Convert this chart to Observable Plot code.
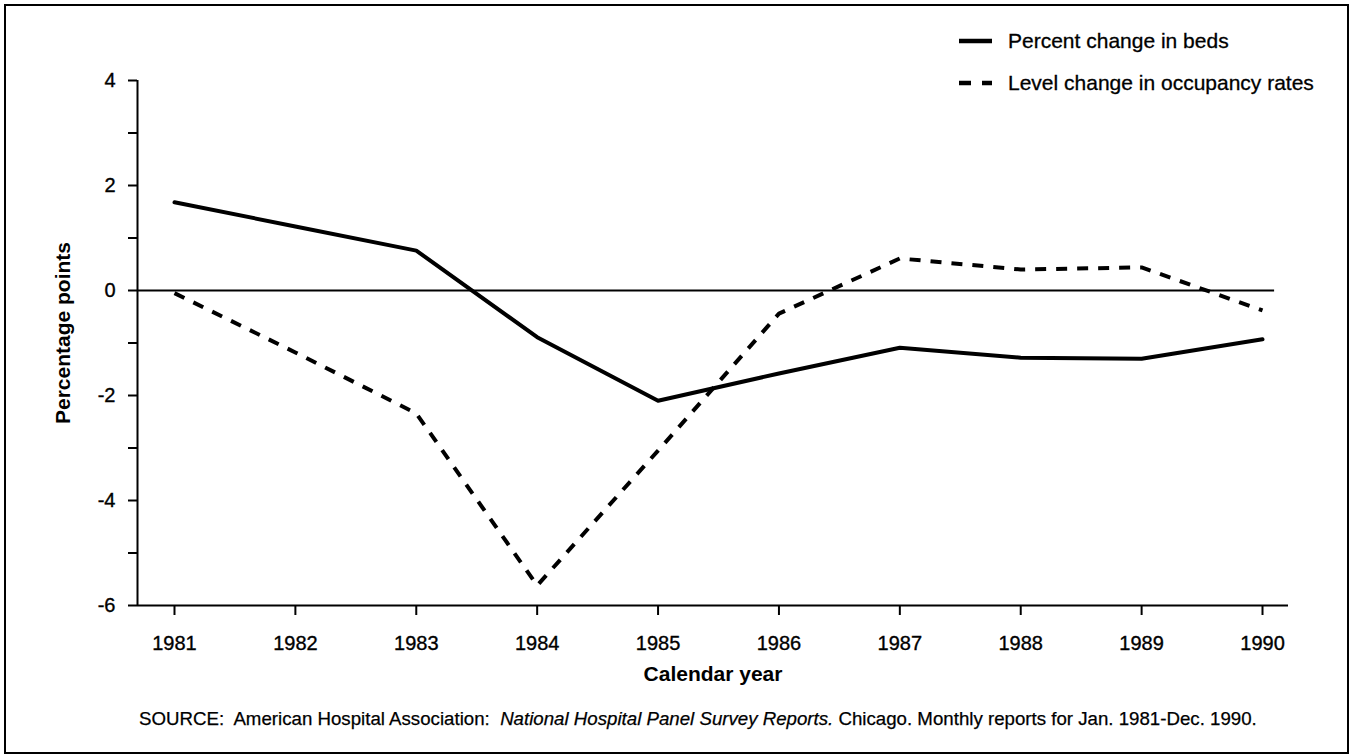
<!DOCTYPE html>
<html>
<head>
<meta charset="utf-8">
<script src="https://cdn.jsdelivr.net/npm/d3@7"></script>
<script src="https://cdn.jsdelivr.net/npm/@observablehq/plot@0.6"></script>
<style>
  html, body { margin: 0; padding: 0; background: #fff; }
  #wrap { position: relative; width: 1351px; height: 754px; overflow: hidden; font-family: "Liberation Sans", Arial, Helvetica, sans-serif; color: #000; }
  #border { position: absolute; left: 4px; top: 4px; width: 1345px; height: 750px; box-sizing: border-box; border: 2px solid #000; }
  #chart { position: absolute; left: 0; top: 0; }
  #chart svg g[aria-label$="tick"] path { stroke-width: 2px !important; }
  #chart svg g[aria-label$="tick label"] text { stroke: #000; stroke-width: 0.35px; }
  .leg { position: absolute; left: 958px; height: 21px; display: flex; align-items: center; font-size: 21px; line-height: 21px; white-space: nowrap; -webkit-text-stroke: 0.3px #000; }
  .leg svg { margin-right: 16px; }
  #caption { position: absolute; left: 139px; top: 710px; font-size: 18px; line-height: 18px; white-space: pre; -webkit-text-stroke: 0.25px #000; }
  #ytitle { position: absolute; left: 62px; top: 333px; width: 0; height: 0; }
  #ytitle span { position: absolute; left: 0; top: 0; transform: translate(-50%, -50%) rotate(-90deg); font-size: 21px; font-weight: bold; line-height: 21px; white-space: nowrap; }
</style>
</head>
<body>
<div id="wrap">
  <div id="border"></div>
  <div id="chart"></div>
  <div id="ytitle"><span id="ytext"></span></div>
  <div id="legend"></div>
  <div id="caption"><span id="captext">SOURCE:  American Hospital Association:  <i>National Hospital Panel Survey Reports.</i> Chicago. Monthly reports for Jan. 1981-Dec. 1990.</span></div>
</div>
<script>
// ---- data ----
const years = [1981, 1982, 1983, 1984, 1985, 1986, 1987, 1988, 1989, 1990];
const bedsChange = [1.68, 1.22, 0.76, -0.89, -2.10, -1.58, -1.09, -1.28, -1.30, -0.93];
const occupancyChange = [-0.05, -1.18, -2.34, -5.62, -3.05, -0.44, 0.61, 0.40, 0.44, -0.38];
const seriesNames = ["Percent change in beds", "Level change in occupancy rates"];
const yLabelledTicks = [-6, -4, -2, 0, 2, 4];
const yMinorTicks = [-5, -3, -1, 1, 3];
const xTitle = "Calendar year";
const yTitle = "Percentage points";

const xDomain = [1980.694, 1990.215];
const yDomain = [-6, 4];
const zeroLineEnd = 1990.1;

const bedsData = years.map((yr, i) => ({year: yr, value: bedsChange[i]}));
const occData = years.map((yr, i) => ({year: yr, value: occupancyChange[i]}));
const yTicks = [...yLabelledTicks, ...yMinorTicks].sort((a, b) => a - b);

const dashPattern = "11,10";

const plot = Plot.plot({
  width: 1351,
  height: 700,
  marginLeft: 137,
  marginRight: 63,
  marginTop: 80,
  marginBottom: 95,
  style: {fontFamily: "'Liberation Sans', Arial, Helvetica, sans-serif", fontSize: "20px", color: "#000", background: "transparent"},
  x: {domain: xDomain, ticks: years, tickFormat: d => String(d), tickSize: 10, tickPadding: 20, label: null},
  y: {domain: yDomain, ticks: yTicks, tickFormat: d => yLabelledTicks.includes(d) ? String(d) : "", tickSize: 9, tickPadding: 13, label: null},
  marks: [
    Plot.ruleY([0], {x1: xDomain[0], x2: zeroLineEnd, stroke: "#000", strokeWidth: 2}),
    Plot.ruleX([xDomain[0]], {y1: yDomain[0], y2: yDomain[1], stroke: "#000", strokeWidth: 2}),
    Plot.ruleY([yDomain[0]], {stroke: "#000", strokeWidth: 2}),
    Plot.line(occData, {x: "year", y: "value", stroke: "#000", strokeWidth: 4, strokeDasharray: dashPattern, strokeLinejoin: "miter", strokeLinecap: "butt"}),
    Plot.line(bedsData, {x: "year", y: "value", stroke: "#000", strokeWidth: 4, strokeLinejoin: "round"}),
    Plot.text([xTitle], {text: d => d, frameAnchor: "bottom", dy: 75, fontSize: 21, fontWeight: "bold"})
  ]
});
document.getElementById("chart").appendChild(plot);
document.getElementById("ytext").textContent = yTitle;

// ---- legend ----
const legendTops = [30, 72];
const leg = document.getElementById("legend");
seriesNames.forEach((name, i) => {
  const div = document.createElement("div");
  div.className = "leg";
  div.style.top = legendTops[i] + "px";
  const dash = i === 1 ? `stroke-dasharray="12,11"` : "";
  div.innerHTML = `<svg width="34" height="8"><line x1="1" x2="34" y1="4" y2="4" stroke="#000" stroke-width="4.5" ${dash}/></svg><span>${name}</span>`;
  leg.appendChild(div);
});

// ---- fit caption width ----
const cap = document.getElementById("captext");
const w = cap.getBoundingClientRect().width;
const targetW = 1118;
document.getElementById("caption").style.fontSize = (18 * targetW / w).toFixed(2) + "px";
</script>
</body>
</html>
